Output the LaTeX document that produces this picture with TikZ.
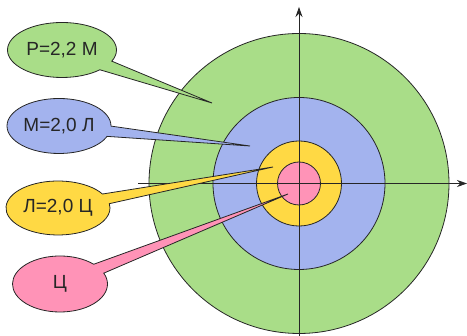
\documentclass[tikz,border=0pt]{standalone}
\usepackage{fontspec}
\setmainfont{Liberation Sans}
\usetikzlibrary{shapes.callouts,arrows.meta}
\definecolor{ringgreen}{HTML}{A9DD88}
\definecolor{ringblue}{HTML}{A3B3EE}
\definecolor{ringyellow}{HTML}{FFD944}
\definecolor{ringpink}{HTML}{FF93B7}
\definecolor{ink}{HTML}{262626}
\tikzset{
  ring/.style={draw=ink, line width=0.8pt},
  axis/.style={draw=ink, line width=0.8pt, -{Stealth[length=10pt,width=7pt]}},
  bubble/.style={ellipse callout, draw=ink, line width=0.8pt, inner sep=0pt,
    callout pointer arc=22, font=\fontsize{19}{22}\selectfont, text=ink}
}
\begin{document}
\begin{tikzpicture}[x=1pt,y=1pt]
  \useasboundingbox (0,0) rectangle (467,336);
  \coordinate (o) at (299,152.5);
  % concentric rings
  \draw[ring, fill=ringgreen] (o) circle[radius=150];
  \draw[ring, fill=ringblue] (o) circle[radius=86];
  \draw[ring, fill=ringyellow] (o) circle[radius=42.5];
  \draw[ring, fill=ringpink] (o) circle[radius=21.5];
  % axes
  \coordinate (xs) at (138,152.5);
  \coordinate (xe) at (467,152.5);
  \coordinate (ys) at (299,0);
  \coordinate (ye) at (299,329);
  \draw[axis] (xs) -- (xe);
  \draw[axis] (ys) -- (ye);
  % callout targets
  \coordinate (tg) at (212,233);
  \coordinate (tb) at (250,190);
  \coordinate (ty) at (273,169);
  \coordinate (tp) at (288,142);
  % callouts
  \node[bubble, fill=ringgreen, minimum width=109pt, minimum height=55pt,
        callout absolute pointer={(tg)}] (cg) at (62,286) {Р=2,2 М};
  \node[bubble, fill=ringblue, minimum width=104pt, minimum height=55pt,
        callout absolute pointer={(tb)}] (cb) at (59,210) {М=2,0 Л};
  \node[bubble, fill=ringyellow, minimum width=104pt, minimum height=54pt,
        callout absolute pointer={(ty)}] (cy) at (58,128) {Л=2,0 Ц};
  \node[bubble, fill=ringpink, minimum width=95pt, minimum height=56pt,
        callout absolute pointer={(tp)}] (cp) at (60,52) {Ц};
\end{tikzpicture}
\end{document}
